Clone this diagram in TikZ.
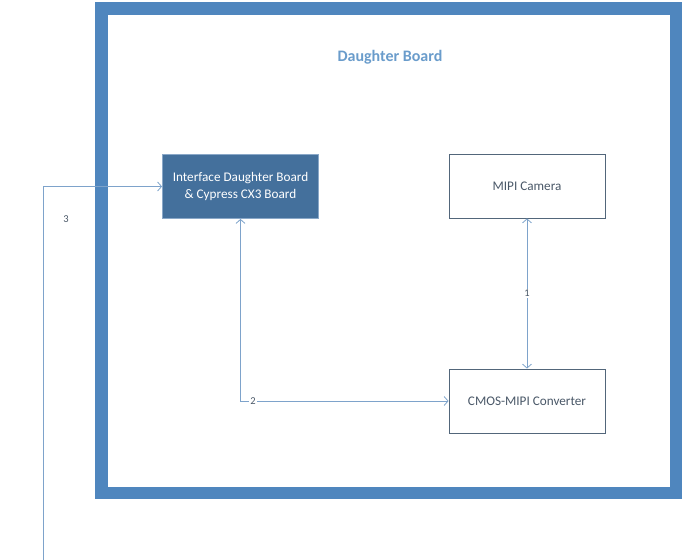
\documentclass[tikz,border=0pt]{standalone}
\usepackage{fontspec}
\setmainfont{Carlito}
\usetikzlibrary{arrows.meta}

\definecolor{frameblue}{HTML}{4F86BE}
\definecolor{titleblue}{HTML}{6A9CCB}
\definecolor{ifaceblue}{HTML}{44709C}
\definecolor{ifaceedge}{HTML}{8AA8C8}
\definecolor{boxedge}{HTML}{52667A}
\definecolor{boxtext}{HTML}{4A5868}
\definecolor{linkblue}{HTML}{7EA3CB}

\tikzset{
  block/.style={draw=boxedge, fill=white, line width=0.8pt, minimum width=156pt, minimum height=64pt,
    text=boxtext, align=center, font=\fontsize{13.2}{17}\selectfont},
  barb/.tip={Straight Barb[length=4pt,width=9pt]},
  link/.style={draw=linkblue, line width=0.8pt},
  tag/.style={fill=white, inner sep=1pt, text=boxtext, font=\fontsize{10.5}{12}\selectfont}
}

\begin{document}
\begin{tikzpicture}[x=1pt,y=-1pt]
  \useasboundingbox (0,0) rectangle (689,560);
  \draw[frameblue, line width=12.5pt] (101.5,8.5) rectangle (676,493);
  \node[text=titleblue, font=\bfseries\fontsize{16}{18}\selectfont] (title) at (390,57) {Daughter Board};
  \node[block, fill=ifaceblue, draw=ifaceedge, text=white] (iface) at (240.5,186.5) {Interface Daughter Board\\\& Cypress CX3 Board};
  \node[block] (camera) at (527,186) {MIPI Camera};
  \node[block] (conv) at (527,401) {CMOS-MIPI Converter};
  \coordinate (entry) at (43,560);
  \draw[link, barb-barb] (camera) -- node[tag]{1} (conv);
  \draw[link, barb-barb] (iface.south) |- node[tag, pos=0.53]{2} (conv.west);
  \draw[link, -barb] (entry) |- (iface.west);
  \node[tag] (three) at (66,219) {3};
\end{tikzpicture}
\end{document}
